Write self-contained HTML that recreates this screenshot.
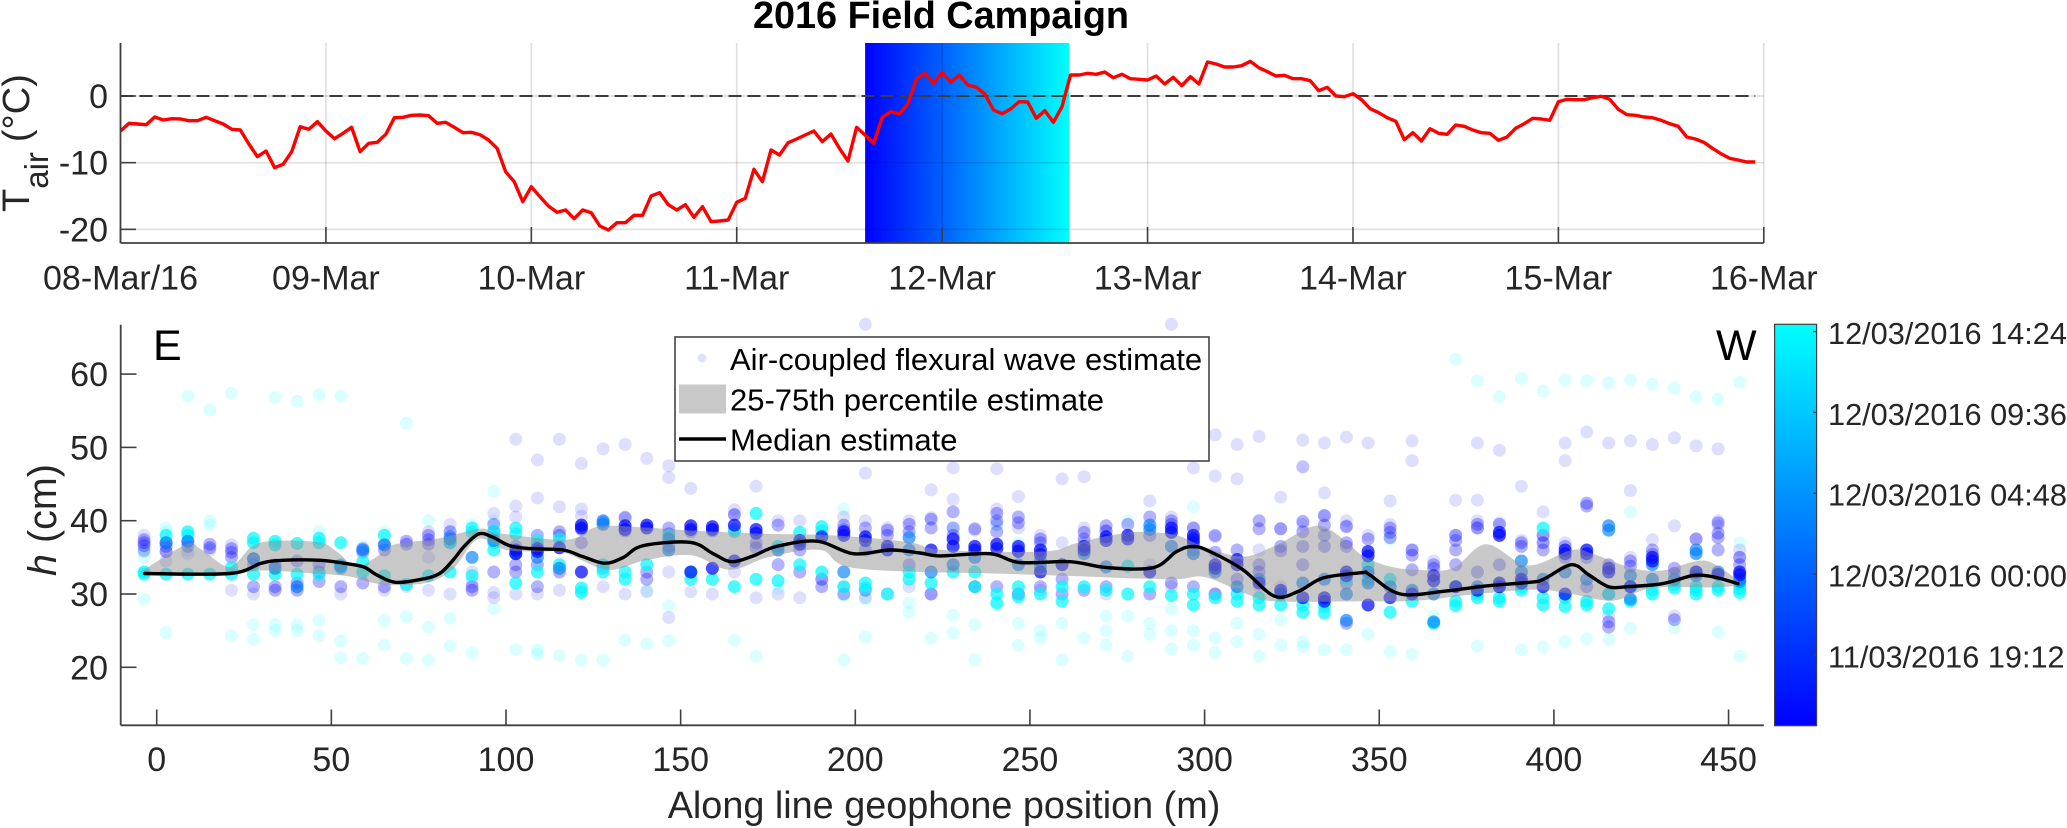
<!DOCTYPE html>
<html lang="en">
<head>
<meta charset="utf-8">
<title>2016 Field Campaign</title>
<style>
html,body{margin:0;padding:0;background:#fff;width:2067px;height:828px;overflow:hidden}
svg{display:block;font-family:"Liberation Sans",Arial,sans-serif}
</style>
</head>
<body>
<svg id="fig" xmlns="http://www.w3.org/2000/svg" width="2067" height="828" viewBox="0 0 2067 828">
<defs>
<linearGradient id="patchGrad" x1="0" y1="0" x2="1" y2="0"><stop offset="0" stop-color="#0000ff"/><stop offset="1" stop-color="#00ffff"/></linearGradient>
<linearGradient id="cbarGrad" x1="0" y1="1" x2="0" y2="0"><stop offset="0" stop-color="#0000ff"/><stop offset="1" stop-color="#00ffff"/></linearGradient>
</defs>
<text x="941" y="28" text-anchor="middle" font-size="37.8" font-weight="bold" fill="#000">2016 Field Campaign</text>
<g id="topPanel"></g>
<g id="botPanel"></g>
<g id="cbar"></g>
<text transform="translate(29,212) rotate(-90)" font-size="38" fill="#262626">T<tspan font-size="33" dy="19">air</tspan><tspan dy="-19" dx="10">(°C)</tspan></text>
<text transform="translate(56,520) rotate(-90)" text-anchor="middle" font-size="39.5" fill="#262626"><tspan font-style="italic">h</tspan> (cm)</text>
<text x="944" y="818" text-anchor="middle" font-size="37.8" fill="#262626">Along line geophone position (m)</text>
<text x="153" y="360" font-size="43" fill="#000">E</text>
<text x="1716" y="360" font-size="43" fill="#000">W</text>
<g>
<rect x="675" y="337" width="534" height="124" fill="#fff" stroke="#444" stroke-width="1.6"/>
<circle cx="702" cy="358" r="4.5" fill="#dde0ff"/>
<text x="730" y="370" font-size="31" fill="#000">Air-coupled flexural wave estimate</text>
<rect x="679" y="384.5" width="47" height="29" fill="#c8c8c8"/>
<text x="730" y="410.5" font-size="31" fill="#000">25-75th percentile estimate</text>
<line x1="679" x2="726" y1="439" y2="439" stroke="#000" stroke-width="3.4"/>
<text x="730" y="450.5" font-size="31" fill="#000">Median estimate</text>
</g>
</svg>
<script>
// ---- top panel data: hourly air temperature from 08-Mar 00:00 (degC)
const tairValues = [-5.25,-4.1,-4.2,-4.3,-3.15,-3.6,-3.4,-3.45,-3.7,-3.7,-3.2,-3.7,-4.2,-5,-5.1,-7.2,-9.1,-8.25,-10.75,-10.25,-8.35,-4.6,-5,-3.85,
-5.25,-6.4,-5.6,-4.7,-8.35,-7.1,-6.95,-5.75,-3.25,-3.2,-2.9,-2.85,-2.95,-4.1,-3.95,-4.7,-5.5,-5.45,-5.8,-6.6,-7.85,-11.35,-12.85,-15.85,
-13.6,-15.1,-16.5,-17.45,-17.1,-18.4,-17.1,-17.5,-19.5,-20.1,-19,-19,-17.9,-17.9,-15,-14.5,-16.3,-17.1,-16.3,-18.2,-16.6,-18.85,-18.75,-18.6,
-15.95,-15.35,-11,-12.85,-8.1,-8.85,-7,-6.45,-5.85,-5.25,-6.85,-5.7,-7.85,-9.75,-4.7,-5.85,-7.1,-3.2,-2.35,-2.7,-1.2,2.55,3.4,1.9,
3.55,2.05,3.15,1.65,1.3,0.3,-2.1,-2.65,-1.95,-0.85,-0.9,-3.35,-2.2,-3.95,-1.6,3.15,3.15,3.4,3.25,3.6,2.75,3.25,2.6,2.5,
2.4,3,1.8,2.8,1.55,2.9,1.8,5.1,4.8,4.35,4.35,4.55,5.2,4.25,3.65,3,3.1,2.6,2.6,2.3,0.8,1.3,0,-0.1,
0.35,-0.55,-1.9,-2.5,-3.25,-3.8,-6.55,-5.5,-6.75,-4.9,-5.6,-5.75,-4.35,-4.55,-5.1,-5.5,-5.6,-6.65,-6.15,-4.85,-4.15,-3.35,-3.45,-3.65,
-0.85,-0.5,-0.55,-0.55,-0.25,-0.05,-0.5,-2,-2.8,-2.9,-3.15,-3.25,-3.65,-4.15,-4.55,-6.15,-6.45,-6.95,-7.85,-8.65,-9.35,-9.6,-9.9,-9.9];
const topYTicks = [0,-10,-20];
const topXTickDays = [0,1,2,3,4,5,6,7,8];
const topXLabels = ['08-Mar/16','09-Mar','10-Mar','11-Mar','12-Mar','13-Mar','14-Mar','15-Mar','16-Mar'];
const freezingLevel = 0;
const campaignStartHour = 87;      // 11-Mar 15:00
const campaignEndHour = 110.83;    // 12-Mar 14:50

// ---- bottom panel data
const botYTicks = [20,30,40,50,60];
const botXTicks = [0,50,100,150,200,250,300,350,400,450];
const columnPositions = [-3.6,2.7,8.9,15.2,21.4,27.7,33.9,40.2,46.5,52.7,59,65.2,71.5,77.8,84,90.3,96.5,102.8,109,115.3,121.6,127.8,134.1,140.3,146.6,152.9,159.1,165.4,171.6,177.9,184.1,190.4,196.7,202.9,209.2,215.4,221.7,228,234.2,240.5,246.7,253,259.2,265.5,271.8,278,284.3,290.5,296.8,303,309.3,315.6,321.8,328.1,334.3,340.6,346.8,353.1,359.4,365.6,371.9,378.1,384.4,390.7,396.9,403.2,409.4,415.7,421.9,428.2,434.5,440.7,447,453.2];
// estimates per geophone column, grouped by time-of-shot colour
const faintCyanDots = [[29.3,35,36],[24.7,38.5,39],[57,36],[55.1,40,39.4],[57.4,24.3],[25.8,23.8],[56.8,25.8,25],[56.3,25.8,25],[57.2,26.4,24.3,38.5],[57,23.6,21.3],[21.2,36.5],[26.4,23,38.5],[53.3,26.9,21.2],[25.5,21,40],[26.7,22.9,38.5],[22,39.5],[44,28,40],[22.4],[22.4,21.8],[21.6],[21,30.4],[21],[23.7],[23.2,30.5],[23.6,28.4],[],[],[23.7],[21.5],[30.8],[],[],[21,29.7,41.6],[24.1,29.3],[],[28.8,27.5],[24],[27.1,24.7,39],[25.8,21],[28.4,39.4],[26,23,37],[25,24],[21,26],[24],[25,23,27],[21.5,27,40],[26,24.5],[25,22.5,28],[25,23,41.9],[24,22],[23.5,26],[24.5,21.5],[23,26.5],[23.5,22.8],[22.4],[22.4],[24.5],[22.1,37.5],[21.8],[27],[62],[59.1,22.9],[56.9],[59.4,22.4],[57.7,22.8],[59.2,23.5],[59.1,23.9],[58.8,23.8],[59.2,41.2,25.3],[58.6],[58.1,25.4],[56.9],[56.6,24.8],[58.9,21.5,37]];
const faintBlueDots = [[36,35.8,38],[35.8,34.5],[35.5],[36],[36.7,30.5],[30],[],[31],[],[30],[],[30.5],[31],[38.5,35,30.5],[39.5,30],[33,31.5],[41,30.2,29.5],[51.1,42,40.5,30],[48.3,43.1,30],[51.1,41.9,30.5],[47.8,41.6,40.6],[49.8,31],[50.4,40.5,30],[48.5,30.3],[47.5,45.9,26.8,33],[44.4,30.3],[30],[40.8,41.5,33],[44.7,29.5],[40,30],[29.5,40],[32],[40.5,31],[66.8,46.5,40,29.5],[39,30],[40,31],[44.2,40.4,30],[47.2,42.9],[38.7,31],[47.1,41.6,39.5],[43.3,39,30],[38,30.5],[45.7,37],[46,39,37],[38.6,30],[],[42.7,34],[66.8,40.5,31],[47.2,39],[51.7,46.1,37.8,30],[50.4,45.7],[51.5,36,31],[43.2,38.9,31],[51,47.4,47.3,39.5],[50.6,43.8,40.7],[51.4,39.3,40],[50.6,38],[42.7,39.5],[50.9,48.2,36],[34.5],[42.8,38],[50.6,42.8,40,39],[49.6,39.7],[44.7,37.3],[41.2,38,37],[50.6,48.2,37],[52.1],[50.6,27],[50.9,44.1,35],[50.4,37.4],[51.3,39.3,27],[50.2,37.5],[49.8,40,39.3],[35,36]];
const midBlueDots = [[37,37.4,36.6],[37,36.5,35.8],[37.2,36.5],[36.8,36.3],[35.7,36.2,35],[34.8,34,31],[34,31,30.5],[34.5,30.5,31.5],[34,33,31.7],[33.5,31],[35.7,36.2,31.5],[36.7,36,31],[37.2,36.8],[38,37.4,36.8],[37.8,37,38.5],[31,30.5],[38.5,39.5,33],[36.5,34,33],[36.7,38,34,31],[38.5,38,33],[38.8,37],[39.8,33.5],[40.4,38.6],[33,32],[39,38.2,36.5],[38.5],[38.6],[40.8,38.8],[37,36.3],[39.4,34],[36,33],[32,31],[39.4,38.8,30],[39,36,30.5],[38.7,38],[39.5,38.5,34],[40.2,39,30],[41.2,38,39],[38.9,31],[41,40,38.5,31],[40.5,39.7,36,30],[37.5,37,31],[32,30],[38.4,37.5,30.5],[38.6,39.3,31],[39.5],[40.5,38,30],[40,39.5,31.5],[39,36,31],[38,35.7,30],[36,32],[40,38.9,34,33],[38.9,36.5,35.9],[39.9,38.5,36.5,34],[40.7,39.4,38,36.5],[39.2,37,36.5,31.5,26],[37.5,33],[39,38.4,37.7],[35.3,36,33.3],[34,33.5],[38,37.3,36,34],[39.5,39,33],[39.5,34],[36.5,37],[38,37,36],[36.5,35],[42.4,42,35,31],[34,30,26.2,25.5],[34.5,33.8,31],[36,35.4],[33.5,32.8,26.5],[37.5,33],[39.7,38.3,37.7,36],[35,34]];
const denseCyanDots = [[32.7,33],[32.7,38],[32.7,38.5,38],[32.7],[32.7,33.6],[32.7,37.6,37],[32.7,36.7,37.2],[32.7,36.9],[32.7,37.6,37],[33.6,37,34],[33,34.4],[32.5,38],[31.3],[32.5],[33,37],[39,38.4,32.5],[38.6,37.8,36,37],[39,38.2,31.5],[37.3,33],[37.5,34],[30.8,30.2],[33,34],[33,32],[34],[38],[33,32],[32],[38.5,31],[41,32],[36.5,31.8],[38.4,34],[39.2,38.6,33],[31],[31.5,30.8],[30],[33,32],[31.5],[33],[31,33],[28.8,30],[31,29.6],[30],[31,29],[31],[30.5],[30,33.8],[31],[29.8],[28.5,30],[29.5],[30,29],[28.5,29.5],[30,28.5],[27.5,28.5],[28.3,27.4],[32],[34,32],[27.5,32],[29],[26],[29,28.4],[29.5,30],[29.5,29],[31,30.5],[39,29.5,28.5],[29.5,28.3],[28.5,29],[30,28],[29,31],[30,30.6],[30.8,31.3],[31,30.5,30],[30.5,31],[30.7,31.3,30.2]];
const denseAzureDots = [[],[37],[37.2],[],[],[34.8],[33.5],[31],[],[33.8],[36],[36.7],[],[],[37.5],[35],[37.3],[35.5],[35],[33.5],[],[39.5,40],[],[],[37.5,36],[],[],[],[],[36],[],[],[33],[],[],[37.7,36],[33],[34],[35],[],[34],[33.7,34.5],[],[35.5],[33.7],[],[39.4,38.8],[36.5],[35.5],[33],[31],[32],[30],[31.5],[32],[26.4,30],[31.5,33],[31],[30.5],[30,26.2],[31],[31],[31],[34.5,33],[32],[33],[32],[39.3,38.7],[29.3,32.5],[34,32],[32],[35.5,36,32.5],[33],[32,31.7]];
const denseBlueDots = [[],[],[],[],[],[],[],[],[],[],[],[],[],[],[],[],[],[36,35.5],[36.2,35.8],[36.3],[39.4,39,33],[],[39.3,38.8],[39.4,39],[],[39.3,38.8,33],[39.2,38.8,33.5],[39.4,34.5],[38.8,38.3],[],[37.3,36.8],[37.8],[38.5,38],[37.8,37.3],[36.5,36],[],[36],[37.5,36.5],[36.5,36],[36.8,36.2],[36.5,35.8],[36,35.4,33],[34],[36.5,36],[37.8,37.3],[38,37.5],[33],[39,38.4],[38,37.5,37],[34,33.5],[34.7,34],[31.5],[30.5],[29.5],[29.5,29],[33,32.5],[35.8,35.2,28.5],[29.5],[30],[32.5,31.8],[31],[30.5],[38.4,38,31.5,31],[32,31.5],[31],[36,35.5,30],[36,35.5],[33.5,33],[31],[35,34.5],[],[33],[32.7],[33,32.6]];
// fraction of the campaign (0 = start/blue, 1 = end/cyan) for each group
const faintCyanTime = 1, faintBlueTime = 0, midBlueTime = 0, denseCyanTime = 0.97, denseAzureTime = 0.5, denseBlueTime = 0.03;

const medianPositions = [-3.5,20.9,30,36,46.8,53.5,59.2,63,68.3,75.7,81,84.8,88,92.2,96,101,107,116.4,122,128.3,133.6,139.3,152.7,159.3,164.6,170.8,177.5,189,199.4,210,218.5,224.3,238.6,247,261.5,272,285.3,292,296.7,301.5,311,320,327,334,345,347,356,369,380.6,393,397,405,410,415.6,421,431,439.5,443.6,447.8,452.7];
const medianValues = [32.8,32.8,34.2,34.6,34.6,34.2,33.7,32.6,31.6,32,32.8,34.6,36.5,38.2,37.8,36.6,36.2,36,35.1,34.2,35,36.6,37.05,35.5,34.4,35.2,36.5,37.2,35.5,36,35.6,35.2,35.5,34.3,34.4,33.6,33.6,35.8,36.5,35.8,33.3,29.7,30.4,32.2,32.9,32.7,30,30.4,31.1,31.6,32,34,32.6,31,31,31.4,32.5,32.5,32.1,31.4];
const upperPositions = [-3.7,8.6,12.4,19.6,22.9,29.6,45.8,51.5,57,63,67.7,81,92.5,98,117.3,125,130.6,155.6,174.6,193.6,215,225,254,263,273,282,292,299.6,311,320.7,332,340,345,352.6,361,371,380.6,392.5,405,411,422.6,431,440,445,452.7];
const upperValues = [33.3,36.8,36.2,33.8,34.3,37,37.1,35.8,33.7,35.1,36.7,37.6,38.9,38.3,37.4,39,39.3,38.6,38.2,38,37.1,36,35.8,36.9,38,38.5,38,36.5,35.1,36.7,39.3,37.4,35.3,33.8,33.3,33.5,36.8,33.9,36,35.5,33.5,33.2,34.4,34.3,31.9];
const lowerPositions = [-3.7,20,30,45,55,62,68,78,85,92,100,110,117,129,140,153,164,175,190,200,240,260,290,300,312,320,345,361,378,395,405,417,428,445,452.7];
const lowerValues = [32.6,32.6,33.2,32.8,32.4,31.5,31.2,31.6,33.5,37.5,36,35.8,35.6,33.3,34.6,35.3,33.3,35,36,33.5,32.8,32.5,32,32.3,30,29,29,29.1,30,30.6,30,29.1,30.8,30.9,31.1];

// ---- colorbar data: hours after 11-Mar 15:00
const cbarTickHours = [4.2,9,13.8,18.6,23.4];
const cbarTickLabels = ['11/03/2016 19:12','12/03/2016 00:00','12/03/2016 04:48','12/03/2016 09:36','12/03/2016 14:24'];
const cbarMinHour = 0, cbarMaxHour = 23.83;

// ---- scales
const xTop = h => 120.5 + (h / 192) * (1763.8 - 120.5);
const yTop = v => 96 - v * 6.667;
const xBot = m => 156.7 + m * 3.493;
const yBot = h => 594 - (h - 30) * 7.33;
const yBar = hr => 725.7 - (hr - cbarMinHour) / (cbarMaxHour - cbarMinHour) * (725.7 - 324.3);
const timeColor = t => 'rgb(0,' + Math.round(t * 255) + ',255)';

const NS = 'http://www.w3.org/2000/svg';
const topPanel = document.getElementById('topPanel');
const botPanel = document.getElementById('botPanel');
const cbar = document.getElementById('cbar');
function make(parent, tag, attrs, text) {
  const el = document.createElementNS(NS, tag);
  for (const k in attrs) el.setAttribute(k, attrs[k]);
  if (text !== undefined) el.textContent = text;
  parent.appendChild(el);
  return el;
}
function smoothPath(pts, move) {
  let d = (move ? 'M' : 'L') + pts[0][0].toFixed(1) + ' ' + pts[0][1].toFixed(1);
  for (let i = 0; i < pts.length - 1; i++) {
    const p0 = pts[Math.max(i - 1, 0)], p1 = pts[i], p2 = pts[i + 1], p3 = pts[Math.min(i + 2, pts.length - 1)];
    const c1x = p1[0] + (p2[0] - p0[0]) / 6, c1y = p1[1] + (p2[1] - p0[1]) / 6;
    const c2x = p2[0] - (p3[0] - p1[0]) / 6, c2y = p2[1] - (p3[1] - p1[1]) / 6;
    d += 'C' + c1x.toFixed(1) + ' ' + c1y.toFixed(1) + ' ' + c2x.toFixed(1) + ' ' + c2y.toFixed(1) + ' ' + p2[0].toFixed(1) + ' ' + p2[1].toFixed(1);
  }
  return d;
}

// ---- top panel
const patch = make(topPanel, 'rect', {x: xTop(campaignStartHour), y: 43, width: xTop(campaignEndHour) - xTop(campaignStartHour), height: 200, fill: 'url(#patchGrad)'});


topYTicks.forEach(v => {
  const g = make(topPanel, 'line', {x1: 120.5, x2: 1763.8, y1: yTop(v), y2: yTop(v), stroke: 'rgba(0,0,0,0.12)', 'stroke-width': 1.7});
  
  
  const t = make(topPanel, 'line', {x1: 120.5, x2: 136, y1: yTop(v), y2: yTop(v), stroke: '#404040', 'stroke-width': 1.6});
  
  
  const l = make(topPanel, 'text', {x: 108, y: yTop(v) + 12, 'text-anchor': 'end', 'font-size': 34, fill: '#262626'}, String(v));
  
  
});
topXTickDays.forEach((d, i) => {
  const x = xTop(d * 24);
  const g = make(topPanel, 'line', {x1: x, x2: x, y1: 43, y2: 243, stroke: 'rgba(0,0,0,0.12)', 'stroke-width': 1.7});
  
  
  const t = make(topPanel, 'line', {x1: x, x2: x, y1: 227, y2: 243, stroke: '#404040', 'stroke-width': 1.6});
  
  
  const l = make(topPanel, 'text', {x: x, y: 289.5, 'text-anchor': 'middle', 'font-size': 34, fill: '#262626'}, topXLabels[i]);
  
  
});
const zero = make(topPanel, 'line', {x1: 120.5, x2: xTop(tairValues.length - 1), y1: yTop(freezingLevel), y2: yTop(freezingLevel), stroke: '#3c3c3c', 'stroke-width': 2, 'stroke-dasharray': '13 6'});


const tairLine = make(topPanel, 'polyline', {points: tairValues.map((v, i) => xTop(i).toFixed(1) + ',' + yTop(v).toFixed(1)).join(' '), fill: 'none', stroke: '#ff0000', 'stroke-width': 3.4, 'stroke-linejoin': 'round'});


const topAxisY = make(topPanel, 'line', {x1: 120.5, x2: 120.5, y1: 43, y2: 243, stroke: '#404040', 'stroke-width': 1.8});


const topAxisX = make(topPanel, 'line', {x1: 120.5, x2: 1763.8, y1: 243, y2: 243, stroke: '#404040', 'stroke-width': 1.8});



// ---- bottom panel scatter
function drawDots(list, time, alpha) {
  list.forEach((vals, c) => {
    vals.forEach(h => {
      const dot = make(botPanel, 'circle', {cx: xBot(columnPositions[c]).toFixed(1), cy: yBot(h).toFixed(1), r: 6.5, fill: timeColor(time), 'fill-opacity': alpha});
      
      
    });
  });
}
drawDots(faintCyanDots, faintCyanTime, 0.14);
drawDots(faintBlueDots, faintBlueTime, 0.13);
drawDots(midBlueDots, midBlueTime, 0.3);
drawDots(denseCyanDots, denseCyanTime, 0.7);
drawDots(denseAzureDots, denseAzureTime, 0.65);
drawDots(denseBlueDots, denseBlueTime, 0.72);

const upperPts = upperPositions.map((m, i) => [xBot(m), yBot(upperValues[i])]);
const lowerPts = lowerPositions.map((m, i) => [xBot(m), yBot(lowerValues[i])]).reverse();
const band = make(botPanel, 'path', {d: smoothPath(upperPts, true) + smoothPath(lowerPts, false) + 'Z', fill: 'rgb(145,145,145)', 'fill-opacity': 0.5});


const medianLine = make(botPanel, 'path', {d: smoothPath(medianPositions.map((m, i) => [xBot(m), yBot(medianValues[i])]), true), fill: 'none', stroke: '#000', 'stroke-width': 3.4, 'stroke-linecap': 'round'});



botYTicks.forEach(v => {
  const t = make(botPanel, 'line', {x1: 120.7, x2: 136.5, y1: yBot(v), y2: yBot(v), stroke: '#404040', 'stroke-width': 1.6});
  
  
  const l = make(botPanel, 'text', {x: 108, y: yBot(v) + 12, 'text-anchor': 'end', 'font-size': 34, fill: '#262626'}, String(v));
  
  
});
botXTicks.forEach(v => {
  const t = make(botPanel, 'line', {x1: xBot(v), x2: xBot(v), y1: 709.5, y2: 725.3, stroke: '#404040', 'stroke-width': 1.6});
  
  
  const l = make(botPanel, 'text', {x: xBot(v), y: 771, 'text-anchor': 'middle', 'font-size': 34, fill: '#262626'}, String(v));
  
  
});
const botAxisY = make(botPanel, 'line', {x1: 120.7, x2: 120.7, y1: 324.7, y2: 725.3, stroke: '#404040', 'stroke-width': 1.8});


const botAxisX = make(botPanel, 'line', {x1: 120.7, x2: 1763.8, y1: 725.3, y2: 725.3, stroke: '#404040', 'stroke-width': 1.8});



// ---- colorbar
const bar = make(cbar, 'rect', {x: 1774.6, y: 324.3, width: 42, height: 401.4, fill: 'url(#cbarGrad)', stroke: '#404040', 'stroke-width': 1.2});


cbarTickHours.forEach((hr, i) => {
  const t = make(cbar, 'line', {x1: 1813, x2: 1816.6, y1: yBar(hr), y2: yBar(hr), stroke: '#404040', 'stroke-width': 1.4});
  
  
  const l = make(cbar, 'text', {x: 1828, y: yBar(hr) + 12.5, 'font-size': 30.7, fill: '#262626'}, cbarTickLabels[i]);
  
  
});
</script>
</body>
</html>
